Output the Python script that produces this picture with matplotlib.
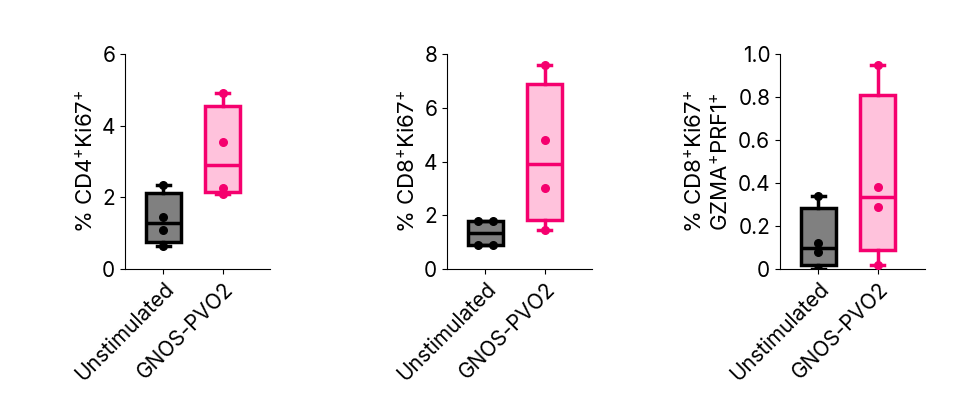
import numpy as np
import matplotlib.pyplot as plt

plt.rcParams['font.family'] = ['Inter', 'DejaVu Sans']
plt.rcParams['mathtext.default'] = 'regular'

groups = ['Unstimulated', 'GNOS-PVO2']
cd4_unstim = [2.35, 1.45, 1.1, 0.65]
cd4_gnos = [4.9, 3.55, 2.25, 2.1]
cd8_unstim = [1.8, 1.8, 0.9, 0.9]
cd8_gnos = [7.6, 4.8, 3.0, 1.45]
prf_unstim = [0.34, 0.12, 0.08, 0.0]
prf_gnos = [0.95, 0.38, 0.29, 0.02]

panels = [
    (cd4_unstim, cd4_gnos, '% CD4$^{+}$Ki67$^{+}$', [0, 2, 4, 6], ['0', '2', '4', '6']),
    (cd8_unstim, cd8_gnos, '% CD8$^{+}$Ki67$^{+}$', [0, 2, 4, 6, 8], ['0', '2', '4', '6', '8']),
    (prf_unstim, prf_gnos, '% CD8$^{+}$Ki67$^{+}$\nGZMA$^{+}$PRF1$^{+}$',
     [0, 0.2, 0.4, 0.6, 0.8, 1.0], ['0', '0.2', '0.4', '0.6', '0.8', '1.0']),
]
edge = ['black', '#f5006e']
face = ['#808080', '#ffc2dc']
lefts = [125, 447, 780]

fig = plt.figure(figsize=(9.7, 4.13), dpi=100)
for (a, b, lab, ticks, tlabs), left in zip(panels, lefts):
    ax = fig.add_axes([left / 970, 1 - 269 / 413, 145 / 970, 215 / 413])
    for i, d in enumerate((a, b)):
        d = np.array(d)
        q1, med, q3 = np.percentile(d, [25, 50, 75], method='weibull')
        s = dict(med=med, q1=q1, q3=q3, whislo=d.min(), whishi=d.max(), fliers=[])
        c = edge[i]
        ax.bxp([s], positions=[i + 1], widths=0.6, patch_artist=True, showfliers=False,
               boxprops=dict(facecolor=face[i], edgecolor=c, linewidth=2.5),
               medianprops=dict(color=c, linewidth=2.5),
               whiskerprops=dict(color=c, linewidth=2.5),
               capprops=dict(color=c, linewidth=2.5), capwidths=0.22)
        # spread duplicate values sideways like a scatter dot plot
        xs = np.full(len(d), i + 1.0)
        for v in np.unique(d):
            idx = np.where(d == v)[0]
            if len(idx) > 1:
                xs[idx] += np.linspace(-0.12, 0.12, len(idx))
        ax.scatter(xs, d, color=c, s=30, zorder=5)
    ax.set_xlim(0.35, 2.8)
    ax.set_ylim(ticks[0], ticks[-1])
    ax.set_yticks(ticks, tlabs)
    ax.set_xticks([1, 2], groups, rotation=45, ha='right', rotation_mode='anchor')
    ax.set_ylabel(lab, fontsize=16)
    ax.tick_params(labelsize=15)
    for sp in ['top', 'right']:
        ax.spines[sp].set_visible(False)
    ax.spines['left'].set_bounds(ticks[0], ticks[-1])

fig.savefig('out.png', dpi=100)
